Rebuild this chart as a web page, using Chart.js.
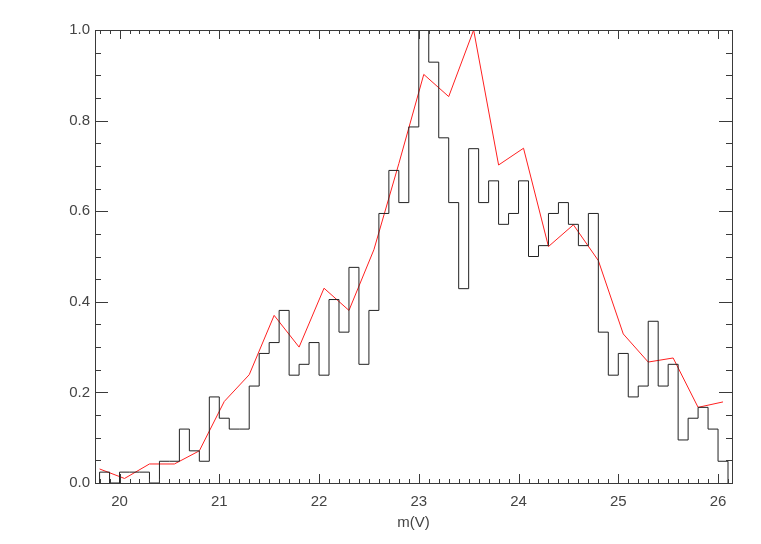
<!DOCTYPE html>
<html>
<head>
<meta charset="utf-8" />
<title>m(V) histogram</title>
<script src="https://cdn.jsdelivr.net/npm/chart.js"></script>
<style>
  html, body { margin: 0; background: #fff; }
  #wrap { width: 761px; height: 544px; }
</style>
</head>
<body>
<div id="wrap"><canvas id="chart" width="761" height="544"></canvas></div>
<script>
// histogram: left edge of first bin, bin width, normalised heights
const binStart = 19.8;
const binWidth = 0.1;
const histValues = [
  0.024, 0.000,
  0.024, 0.024, 0.024, 0.000, 0.048, 0.048, 0.119, 0.071, 0.048, 0.190,
  0.143, 0.119, 0.119, 0.214, 0.286, 0.310, 0.381, 0.238, 0.262, 0.310,
  0.238, 0.405, 0.333, 0.476, 0.262, 0.381, 0.595, 0.690, 0.619, 0.786,
  1.000, 0.929, 0.762, 0.619, 0.429, 0.738, 0.619, 0.667, 0.571, 0.595,
  0.667, 0.500, 0.524, 0.595, 0.619, 0.571, 0.524, 0.595, 0.333, 0.238,
  0.286, 0.190, 0.214, 0.357, 0.214, 0.262, 0.095, 0.143, 0.167, 0.119,
  0.048
];

// red curve
const curveX = [19.8, 20.05, 20.3, 20.55, 20.8, 21.05, 21.3, 21.55, 21.8, 22.05, 22.3, 22.55, 22.8,
                23.05, 23.3, 23.55, 23.8, 24.05, 24.3, 24.55, 24.8, 25.05, 25.3, 25.55, 25.8, 26.05];
const curveY = [0.031, 0.010, 0.042, 0.042, 0.071, 0.180, 0.239, 0.370, 0.300, 0.430, 0.381, 0.515, 0.705,
                0.902, 0.853, 1.000, 0.702, 0.739, 0.522, 0.570, 0.491, 0.329, 0.267, 0.276, 0.167, 0.179];

const xTicks = [20, 21, 22, 23, 24, 25, 26];
const yTicks = [0.0, 0.2, 0.4, 0.6, 0.8, 1.0];
const xMin = 19.754, xMax = 26.14;

// left edges with heights; chart.js 'before' keeps the previous height up to the next x
const histPoints = [{ x: binStart, y: 0 }];
histValues.forEach((v, i) => {
  histPoints.push({ x: +(binStart + i * binWidth).toFixed(2), y: v });
});
const binEnd = +(binStart + histValues.length * binWidth).toFixed(2);
histPoints.push({ x: binEnd, y: 0 });

const curvePoints = curveX.map((x, i) => ({ x: x, y: curveY[i] }));

const axisColor = '#3a3a3a';
const textColor = '#444';

// box + inward ticks on all four sides
const frameTicks = {
  id: 'frameTicks',
  afterDraw(chart) {
    const ctx = chart.ctx;
    const a = chart.chartArea;
    const xs = chart.scales.x, ys = chart.scales.y;
    ctx.save();
    ctx.strokeStyle = axisColor;
    ctx.lineWidth = 1;
    ctx.strokeRect(Math.round(a.left) + 0.5, Math.round(a.top) + 0.5,
                   Math.round(a.right - a.left), Math.round(a.bottom - a.top));
    ctx.beginPath();
    for (let k = Math.ceil(xMin * 10); k <= Math.floor(xMax * 10); k++) {
      const px = Math.round(xs.getPixelForValue(k / 10)) + 0.5;
      const len = (k % 10 === 0) ? 9 : 4;
      ctx.moveTo(px, a.bottom); ctx.lineTo(px, a.bottom - len);
      ctx.moveTo(px, a.top); ctx.lineTo(px, a.top + len);
    }
    for (let k = 1; k < 20; k++) {
      const py = Math.round(ys.getPixelForValue(k / 20)) + 0.5;
      const len = (k % 4 === 0) ? 13 : 6;
      ctx.moveTo(a.left, py); ctx.lineTo(a.left + len, py);
      ctx.moveTo(a.right, py); ctx.lineTo(a.right - len, py);
    }
    ctx.stroke();
    ctx.restore();
  }
};

new Chart(document.getElementById('chart').getContext('2d'), {
  type: 'line',
  data: {
    datasets: [
      {
        data: histPoints,
        stepped: 'before',
        borderColor: '#222',
        borderWidth: 1,
        pointRadius: 0,
        fill: false
      },
      {
        data: curvePoints,
        borderColor: '#ff2020',
        borderWidth: 1,
        pointRadius: 0,
        tension: 0,
        fill: false
      }
    ]
  },
  options: {
    responsive: false,
    animation: false,
    layout: { padding: { top: 30, right: 29, left: 0, bottom: 0 } },
    plugins: { legend: { display: false }, tooltip: { enabled: false } },
    scales: {
      x: {
        type: 'linear',
        min: xMin,
        max: xMax,
        afterBuildTicks: s => { s.ticks = xTicks.map(v => ({ value: v })); },
        afterFit: s => { s.height = 61; },
        grid: { display: false, drawTicks: false },
        border: { display: false },
        ticks: {
          color: textColor,
          padding: 10,
          maxRotation: 0,
          font: { family: 'Liberation Sans', size: 15 },
          callback: v => String(v)
        },
        title: {
          display: true,
          text: 'm(V)',
          color: textColor,
          padding: { top: 0, bottom: 12 },
          font: { family: 'Liberation Sans', size: 15 }
        }
      },
      y: {
        min: 0,
        max: 1,
        afterBuildTicks: s => { s.ticks = yTicks.map(v => ({ value: v })); },
        afterFit: s => { s.width = 95; },
        grid: { display: false, drawTicks: false },
        border: { display: false },
        ticks: {
          color: textColor,
          padding: 5,
          font: { family: 'Liberation Sans', size: 15 },
          callback: v => v.toFixed(1)
        }
      }
    }
  },
  plugins: [frameTicks]
});
</script>
</body>
</html>
